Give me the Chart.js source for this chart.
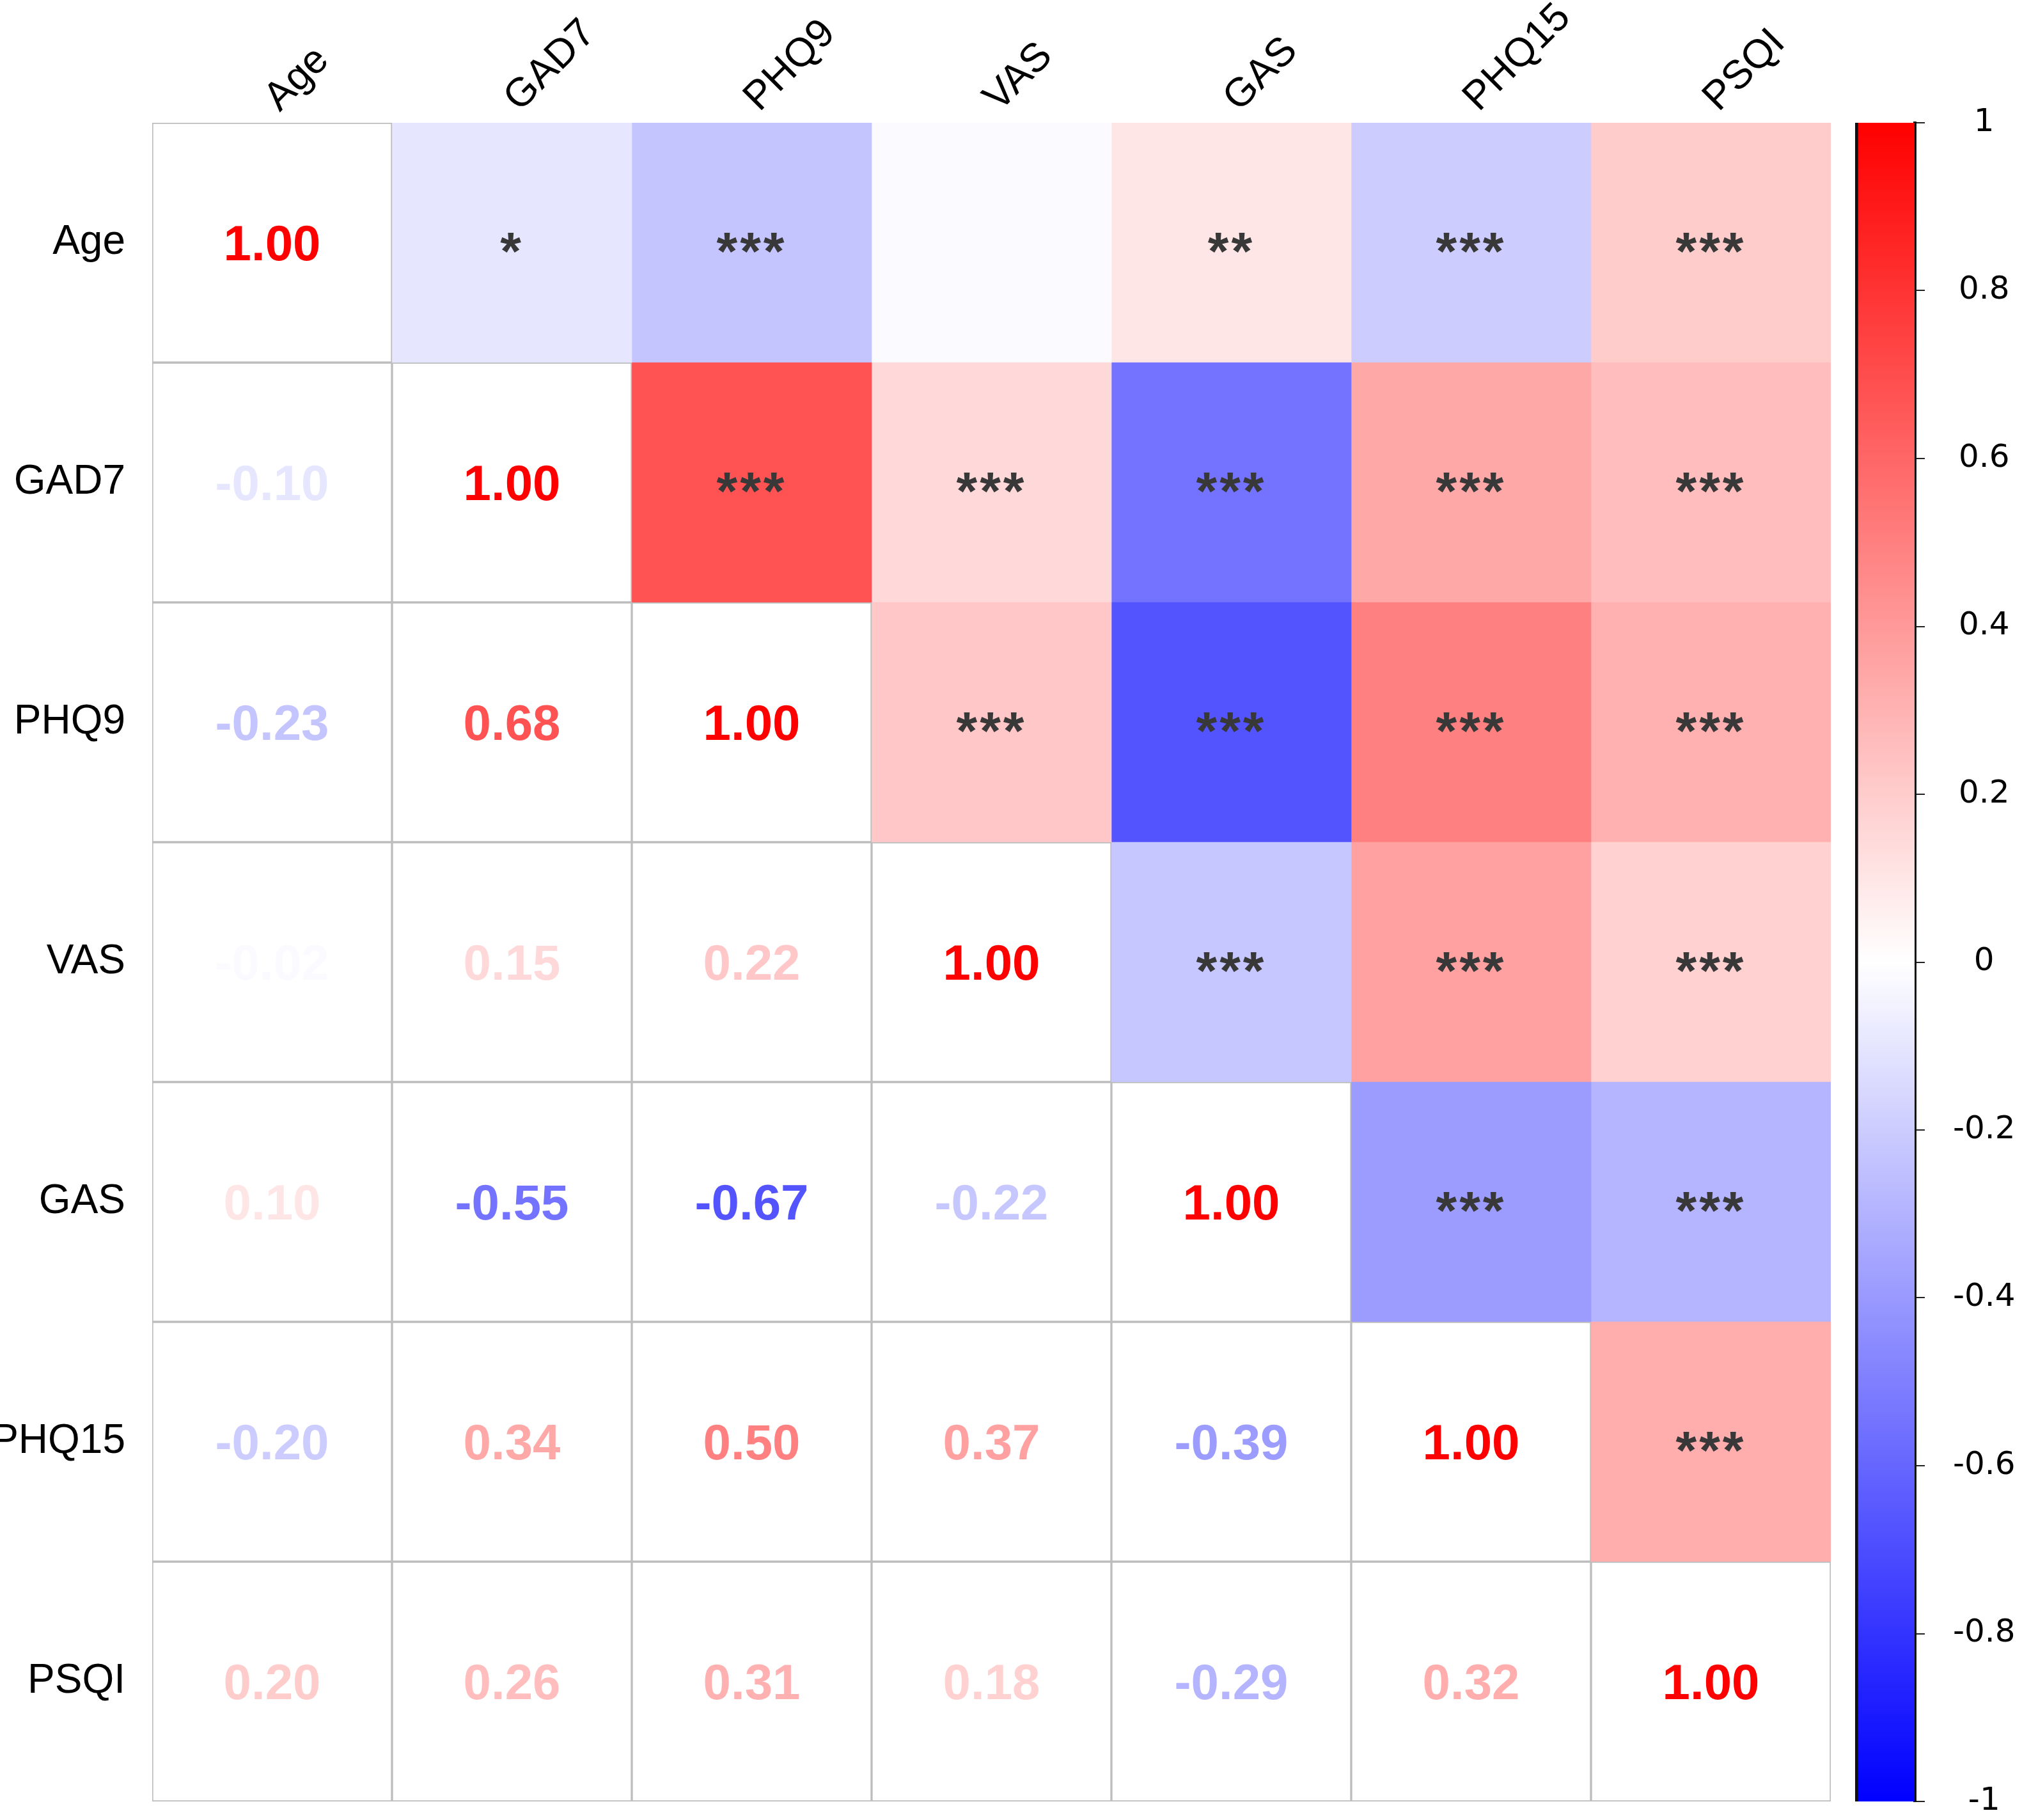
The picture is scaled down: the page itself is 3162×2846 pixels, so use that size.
<!DOCTYPE html>
<html>
<head>
<meta charset="utf-8">
<script src="https://cdn.jsdelivr.net/npm/chart.js@4"></script>
<style>
  html, body { margin: 0; padding: 0; background: #ffffff; }
  #wrap { position: relative; width: 3162px; height: 2846px; }
  #matrix { position: absolute; left: 0; top: 0; }
  #legend { position: absolute; left: 2885px; top: 0; }
</style>
</head>
<body>
<div id="wrap">
  <canvas id="matrix" width="2885" height="2846"></canvas>
  <canvas id="legend" width="277" height="2846"></canvas>
</div>
<script>
// variaveis (linhas e colunas da matriz)
const variables = ["Age", "GAD7", "PHQ9", "VAS", "GAS", "PHQ15", "PSQI"]

// correlacoes, uma linha por variavel
const ageRow = [1.00, -0.10, -0.23, -0.02, 0.10, -0.20, 0.20]
const gad7Row = [-0.10, 1.00, 0.68, 0.15, -0.55, 0.34, 0.26]
const phq9Row = [-0.23, 0.68, 1.00, 0.22, -0.67, 0.50, 0.31]
const vasRow = [-0.02, 0.15, 0.22, 1.00, -0.22, 0.37, 0.18]
const gasRow = [0.10, -0.55, -0.67, -0.22, 1.00, -0.39, -0.29]
const phq15Row = [-0.20, 0.34, 0.50, 0.37, -0.39, 1.00, 0.32]
const psqiRow = [0.20, 0.26, 0.31, 0.18, -0.29, 0.32, 1.00]

// estrelas de significancia (triangulo superior)
const ageStars = ["", "*", "***", "", "**", "***", "***"]
const gad7Stars = ["", "", "***", "***", "***", "***", "***"]
const phq9Stars = ["", "", "", "***", "***", "***", "***"]
const vasStars = ["", "", "", "", "***", "***", "***"]
const gasStars = ["", "", "", "", "", "***", "***"]
const phq15Stars = ["", "", "", "", "", "", "***"]
const psqiStars = ["", "", "", "", "", "", ""]

// marcas da barra de cores
const colorbarTicks = [-1, -0.8, -0.6, -0.4, -0.2, 0, 0.2, 0.4, 0.6, 0.8, 1]

const matrix = [ageRow, gad7Row, phq9Row, vasRow, gasRow, phq15Row, psqiRow]
const stars = [ageStars, gad7Stars, phq9Stars, vasStars, gasStars, phq15Stars, psqiStars]

const GRID = "#bdbdbd"

// azul -> branco -> vermelho
function colorFor(v) {
  if (v >= 0) {
    const c = Math.round(255 * (1 - v))
    return `rgb(255, ${c}, ${c})`
  }
  const c = Math.round(255 * (1 + v))
  return `rgb(${c}, ${c}, 255)`
}

// uma serie por coluna, barras horizontais empilhadas = celulas
const datasets = variables.map((name, j) => ({
  label: name,
  data: variables.map(() => 1),
  backgroundColor: variables.map((_, i) => (j > i ? colorFor(matrix[i][j]) : "#ffffff")),
  borderColor: variables.map((_, i) => (j <= i ? GRID : "rgba(0,0,0,0)")),
  borderWidth: variables.map((_, i) => (j <= i ? 2 : 0)),
  borderSkipped: false,
  barPercentage: 1,
  categoryPercentage: 1,
}))

// textos das celulas e rotulos das colunas
const cellText = {
  id: "cellText",
  afterDatasetsDraw(chart) {
    const ctx = chart.ctx
    ctx.save()
    chart.data.datasets.forEach((ds, j) => {
      const meta = chart.getDatasetMeta(j)
      meta.data.forEach((el, i) => {
        const { x, y } = el.getCenterPoint()
        let text, color, font, spacing = "0px"
        if (j > i) {
          text = stars[i][j]
          color = "#383838"
          font = "bold 84px 'Liberation Sans', Arial, sans-serif"
          spacing = "4px"
        } else {
          text = matrix[i][j].toFixed(2)
          color = colorFor(matrix[i][j])
          font = "bold 78px 'Liberation Sans', Arial, sans-serif"
        }
        if (!text) return
        ctx.font = font
        ctx.letterSpacing = spacing
        ctx.fillStyle = color
        ctx.textAlign = "center"
        ctx.textBaseline = "alphabetic"
        const m = ctx.measureText(text)
        const dy = (m.actualBoundingBoxAscent - m.actualBoundingBoxDescent) / 2
        ctx.fillText(text, x, y + dy)
      })
    })
    ctx.letterSpacing = "0px"

    // rotulos das colunas (45 graus)
    const xs = chart.scales.x
    const top = chart.chartArea.top
    ctx.font = "63px 'Liberation Sans', Arial, sans-serif"
    ctx.fillStyle = "#000000"
    ctx.textAlign = "left"
    ctx.textBaseline = "alphabetic"
    variables.forEach((name, j) => {
      const px = xs.getPixelForValue(j + 0.5)
      ctx.save()
      ctx.translate(px + 12, top - 16)
      ctx.rotate(-Math.PI / 4)
      ctx.fillText(name, 0, 0)
      ctx.restore()
    })
    ctx.restore()
  },
}

new Chart(document.getElementById("matrix"), {
  type: "bar",
  data: { labels: variables, datasets },
  options: {
    indexAxis: "y",
    responsive: false,
    animation: false,
    devicePixelRatio: 1,
    layout: { padding: { top: 192, right: 22, bottom: 29, left: 0 } },
    plugins: { legend: { display: false }, tooltip: { enabled: false } },
    scales: {
      x: { type: "linear", stacked: true, min: 0, max: 7, display: false },
      y: {
        type: "category",
        stacked: true,
        position: "left",
        grid: { display: false, drawTicks: false },
        border: { display: false },
        ticks: {
          padding: 42,
          color: "#000000",
          font: { family: "'Liberation Sans', Arial, sans-serif", size: 64 },
        },
        afterFit(scale) {
          scale.width = 238
          scale.paddingTop = 0
          scale.paddingBottom = 0
        },
      },
    },
  },
  plugins: [cellText],
})

// barra de cores
new Chart(document.getElementById("legend"), {
  type: "bar",
  data: {
    labels: ["r"],
    datasets: [
      {
        data: [[-1, 1]],
        backgroundColor(c) {
          const area = c.chart.chartArea
          if (!area) return "#ffffff"
          const g = c.chart.ctx.createLinearGradient(0, area.bottom, 0, area.top)
          g.addColorStop(0, "#0000ff")
          g.addColorStop(0.5, "#ffffff")
          g.addColorStop(1, "#ff0000")
          return g
        },
        borderColor: "#111111",
        borderWidth: { left: 5, right: 0, top: 0, bottom: 0 },
        borderSkipped: false,
        barPercentage: 1,
        categoryPercentage: 1,
      },
    ],
  },
  options: {
    responsive: false,
    animation: false,
    devicePixelRatio: 1,
    layout: { padding: { top: 192, right: 0, bottom: 29, left: 16 } },
    plugins: { legend: { display: false }, tooltip: { enabled: false } },
    scales: {
      x: { display: false },
      y: {
        position: "right",
        min: -1,
        max: 1,
        afterBuildTicks(scale) {
          scale.ticks = colorbarTicks.map((v) => ({ value: v }))
        },
        grid: { drawOnChartArea: false, drawTicks: true, tickLength: 16, color: "#222222", lineWidth: 2 },
        border: { display: true, color: "#111111", width: 5 },
        ticks: {
          padding: 44,
          crossAlign: "center",
          color: "#000000",
          font: { family: "'DejaVu Sans', sans-serif", size: 50 },
          callback: (v) => String(v),
        },
        afterFit(scale) {
          scale.width = 168
          scale.paddingTop = 0
          scale.paddingBottom = 0
        },
      },
    },
  },
})
</script>
</body>
</html>
